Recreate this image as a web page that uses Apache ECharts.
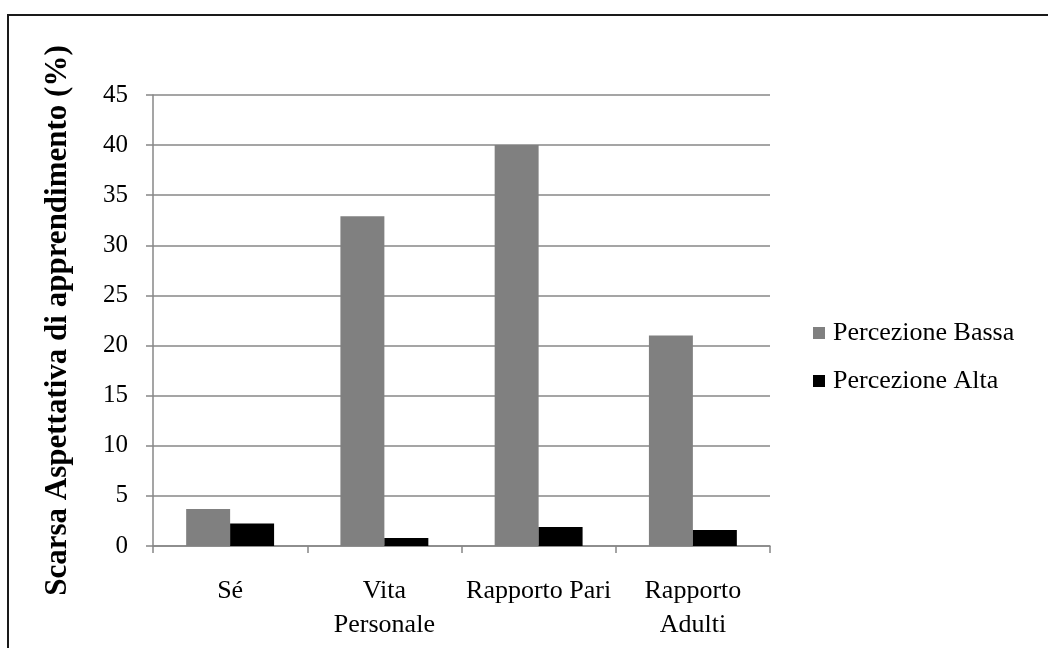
<!DOCTYPE html>
<html>
<head>
<meta charset="utf-8">
<script src="https://cdn.jsdelivr.net/npm/echarts@6/dist/echarts.min.js"></script>
<style>
  html, body { margin: 0; padding: 0; background: #fff; }
  #chart { width: 1048px; height: 648px; }
</style>
</head>
<body>
<div id="chart"></div>
<script>
// Categories and values (%)
const categories = ['Sé', 'Vita\nPersonale', 'Rapporto Pari', 'Rapporto\nAdulti'];
const seriesNames = ['Percezione Bassa', 'Percezione Alta'];
const percezioneBassa = [3.7, 32.9, 40, 21];
const percezioneAlta = [2.25, 0.8, 1.9, 1.6];
const yTicks = { min: 0, max: 45, interval: 5 };

const font = 'Liberation Serif';
const gridColor = '#878787';

const chart = echarts.init(document.getElementById('chart'), null, { renderer: 'canvas' });
chart.setOption({
  backgroundColor: '#fff',
  animation: false,
  graphic: [{
    type: 'rect',
    shape: { x: 8, y: 15, width: 1060, height: 660 },
    style: { fill: 'none', stroke: '#1a1a1a', lineWidth: 2 },
    silent: true
  }],
  grid: { left: 153, right: 278, top: 95, bottom: 102 },
  legend: {
    orient: 'vertical',
    left: 808,
    top: 315,
    itemWidth: 12,
    itemHeight: 12,
    itemGap: 22,
    icon: 'rect',
    textStyle: { fontFamily: font, fontSize: 26, color: '#000', padding: [0, 0, 0, 3] },
    data: seriesNames
  },
  xAxis: {
    type: 'category',
    data: categories,
    axisLine: { lineStyle: { color: gridColor, width: 1.5 } },
    axisTick: { show: true, length: 7, inside: false, alignWithLabel: false, lineStyle: { color: gridColor, width: 1.5 } },
    axisLabel: { fontFamily: font, fontSize: 26, color: '#000', margin: 28, lineHeight: 34, interval: 0 }
  },
  yAxis: {
    type: 'value',
    min: yTicks.min,
    max: yTicks.max,
    interval: yTicks.interval,
    name: 'Scarsa Aspettativa di apprendimento (%)',
    nameLocation: 'middle',
    nameGap: 80,
    nameTextStyle: { fontFamily: font, fontSize: 31, fontWeight: 'bold', color: '#000' },
    axisLine: { show: true, lineStyle: { color: gridColor, width: 1.5 } },
    axisTick: { show: true, length: 7, lineStyle: { color: gridColor, width: 1.5 } },
    axisLabel: { fontFamily: font, fontSize: 25, color: '#000', margin: 25 },
    splitLine: { show: true, lineStyle: { color: gridColor, width: 1.5 } }
  },
  series: [
    {
      name: seriesNames[0],
      type: 'bar',
      data: percezioneBassa,
      itemStyle: { color: '#808080' },
      barGap: '0%',
      barCategoryGap: '43%'
    },
    {
      name: seriesNames[1],
      type: 'bar',
      data: percezioneAlta,
      itemStyle: { color: '#000000' },
      barGap: '0%',
      barCategoryGap: '43%'
    }
  ]
});
</script>
</body>
</html>
